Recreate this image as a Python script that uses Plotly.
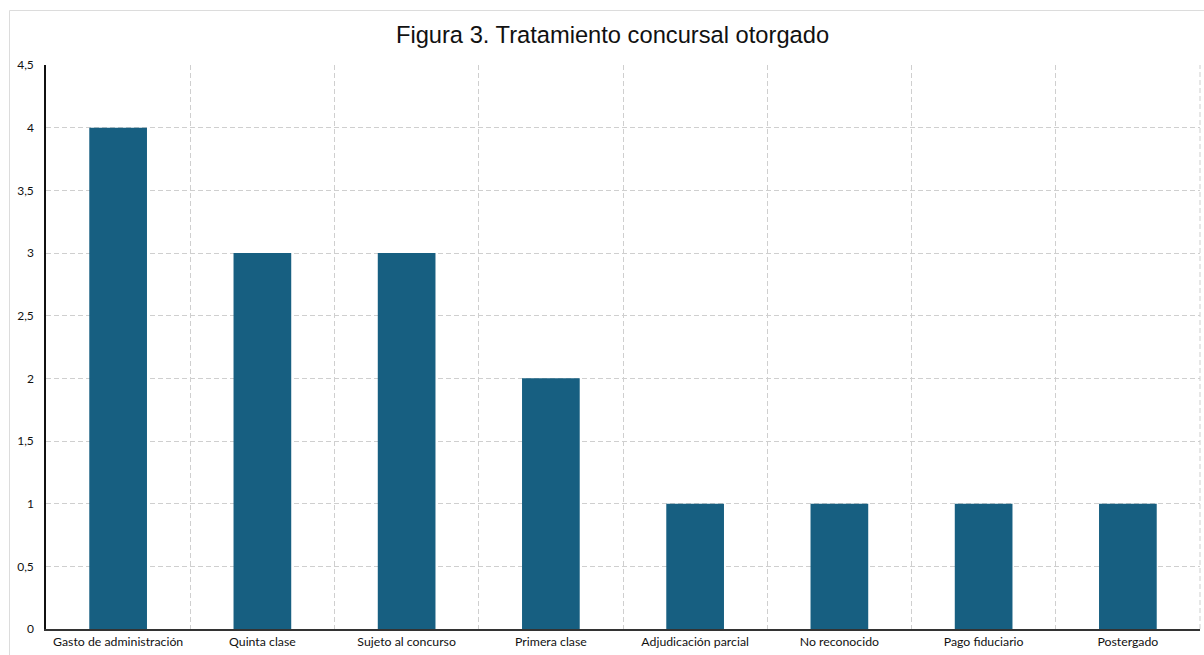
import plotly.graph_objects as go

# Treatment categories and their counts
categorias = [
    "Gasto de administración",
    "Quinta clase",
    "Sujeto al concurso",
    "Primera clase",
    "Adjudicación parcial",
    "No reconocido",
    "Pago fiduciario",
    "Postergado",
]
casos = [4, 3, 3, 2, 1, 1, 1, 1]
y_ticks = [0, 0.5, 1, 1.5, 2, 2.5, 3, 3.5, 4, 4.5]

W, H = 1204, 655
L, R, T, B = 46, 4, 65, 26
pw, ph = W - L - R, H - T - B


def px_x(p):
    return (p - L) / pw


def px_y(p):
    return (H - B - p) / ph


fig = go.Figure(
    go.Bar(
        x=categorias,
        y=casos,
        marker=dict(color="#175f81", line=dict(width=0)),
        width=0.4,
    )
)

grid = dict(showgrid=True, gridcolor="#cfcfcf", griddash="5px,3px", gridwidth=1)

fig.update_layout(
    width=W,
    height=H,
    margin=dict(l=L, r=R, t=T, b=B),
    paper_bgcolor="white",
    plot_bgcolor="white",
    separators=",.",
    showlegend=False,
    title=dict(
        text="Figura 3. Tratamiento concursal otorgado",
        xref="paper",
        x=px_x(612.5),
        xanchor="center",
        y=1 - 35 / H,
        yanchor="middle",
        font=dict(family="Liberation Sans, Arial", size=23.7, color="#111111"),
    ),
    xaxis=dict(
        type="category",
        tickson="boundaries",
        ticks="",
        showline=True,
        linecolor="#333333",
        linewidth=1.5,
        tickfont=dict(family="Lato, Open Sans", size=12.3, color="#111111"),
        range=[-0.5, 7.5],
        **grid,
    ),
    yaxis=dict(
        range=[0, 4.5],
        tickvals=y_ticks,
        ticks="",
        showline=True,
        linecolor="#111111",
        linewidth=1.5,
        zeroline=False,
        tickfont=dict(family="Lato, Open Sans", size=12, color="#111111"),
        ticklabelstandoff=8,
        **grid,
    ),
    shapes=[
        # outer frame of the chart area
        dict(
            type="rect",
            xref="paper",
            yref="paper",
            x0=px_x(9.5),
            x1=px_x(W + 10),
            y0=px_y(H + 10),
            y1=px_y(10.5),
            line=dict(color="#dcdcdc", width=1),
            fillcolor="rgba(0,0,0,0)",
            layer="below",
        ),
        # dashed right-hand boundary line
        dict(
            type="line",
            xref="paper",
            yref="paper",
            x0=1,
            x1=1,
            y0=0,
            y1=1,
            line=dict(color="#cfcfcf", width=1, dash="5px,3px"),
            layer="below",
        ),
    ],
)

fig.write_html("out.html")
